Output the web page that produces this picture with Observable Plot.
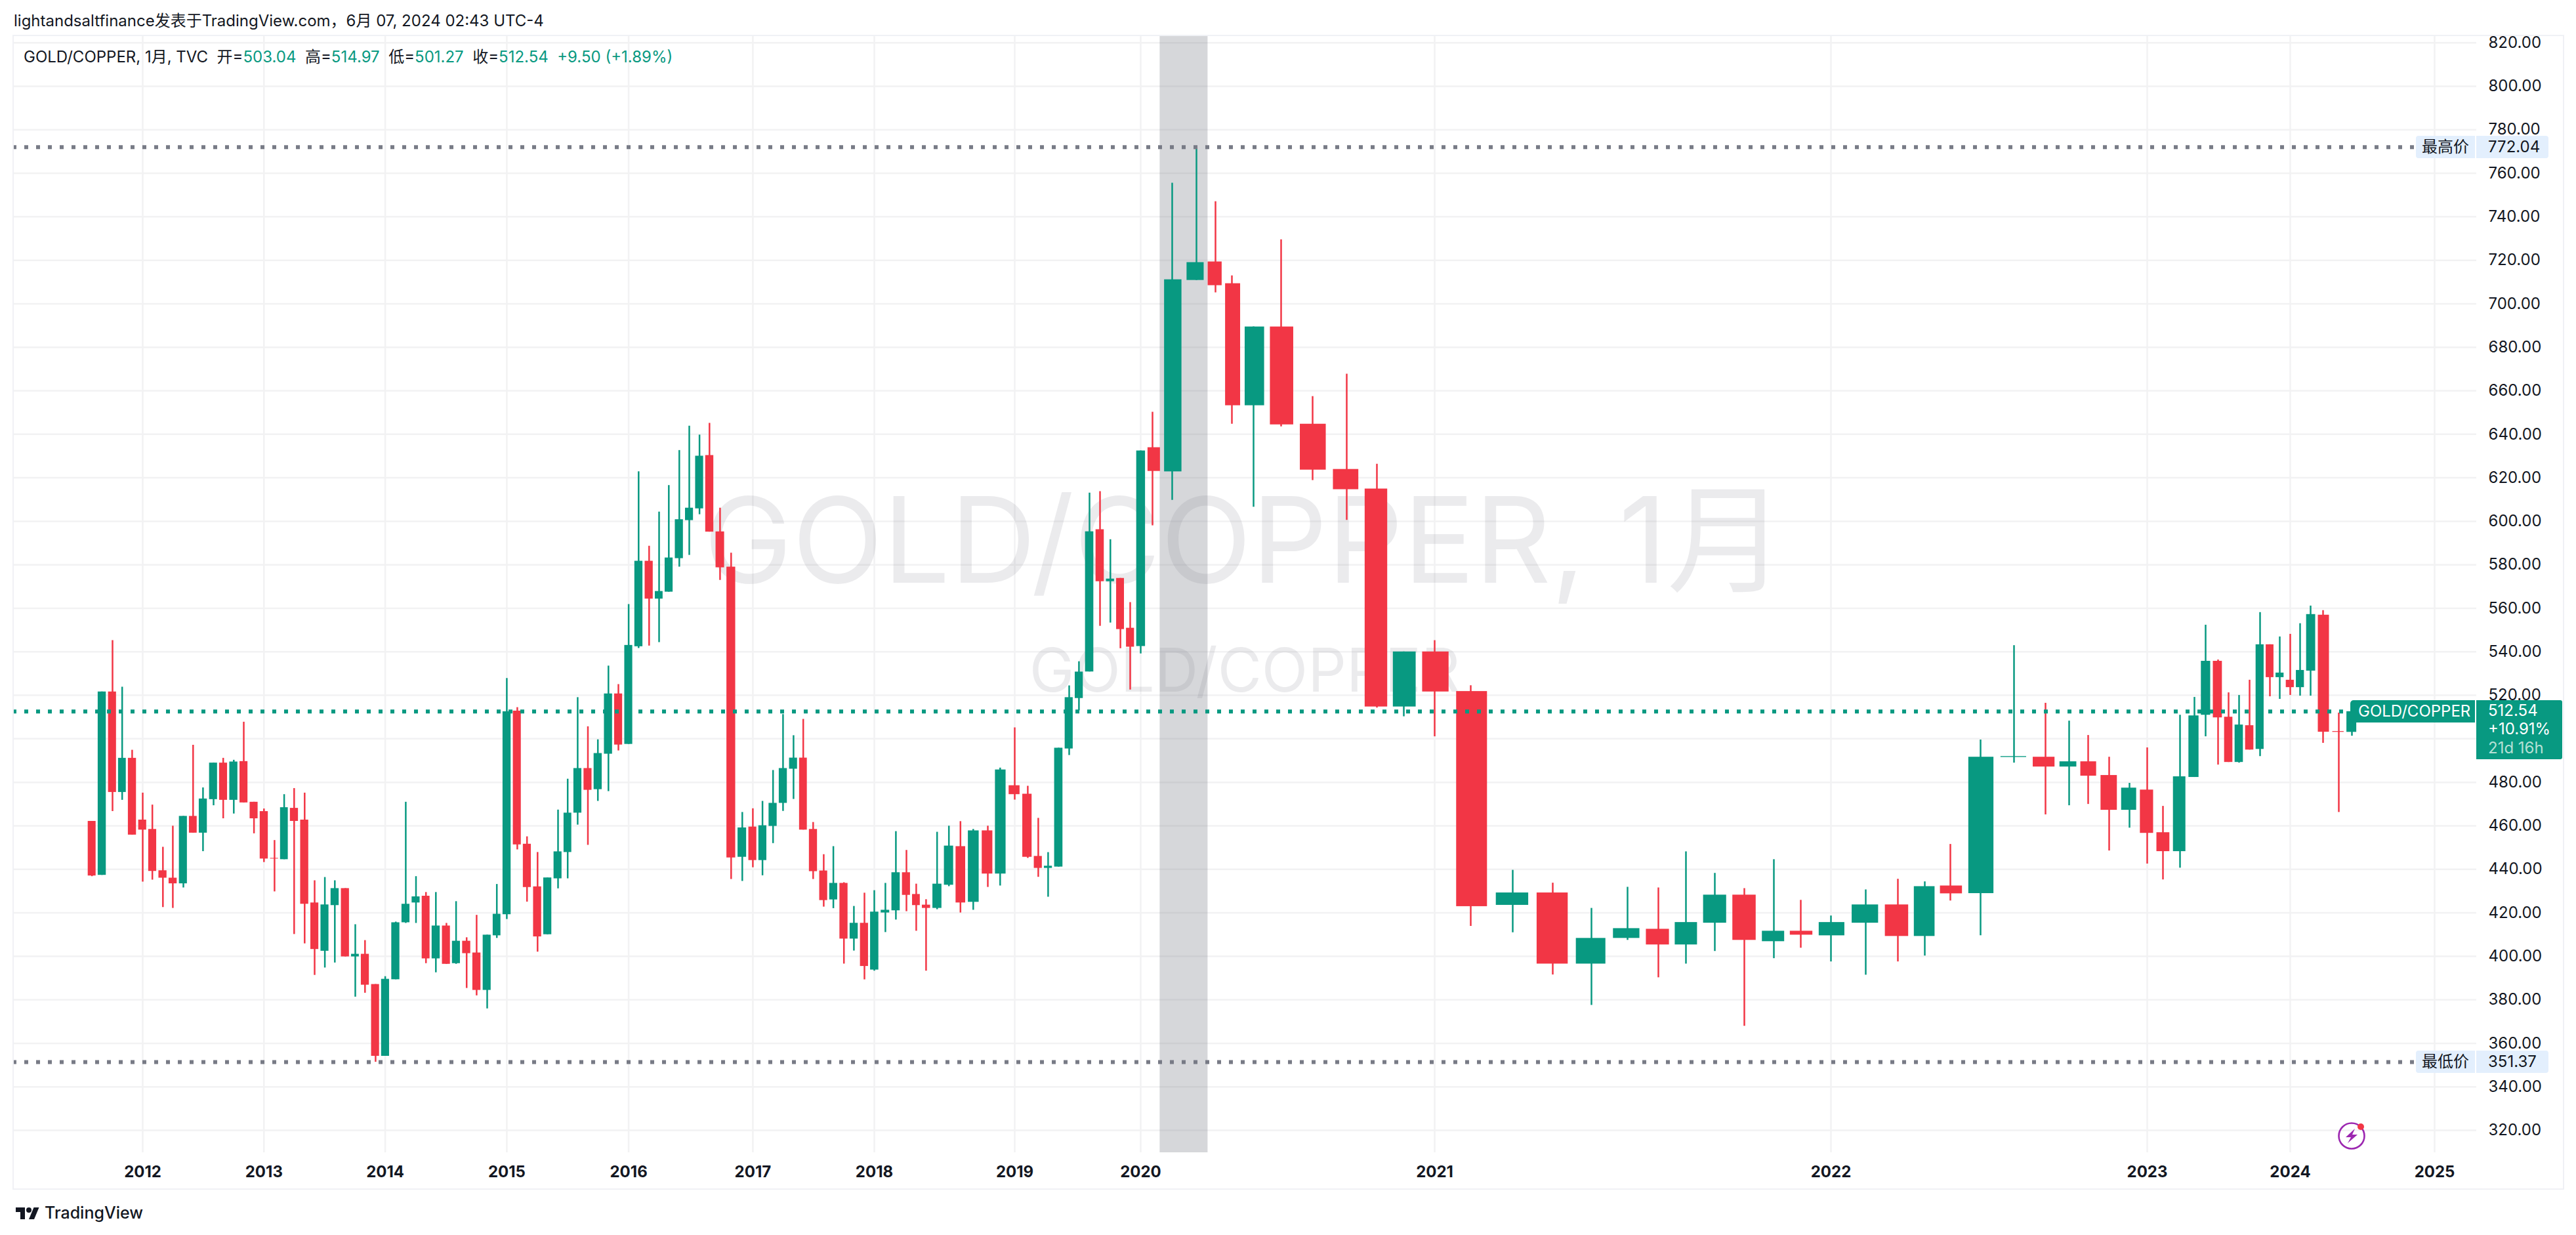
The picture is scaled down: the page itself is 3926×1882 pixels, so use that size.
<!DOCTYPE html>
<html lang="zh">
<head>
<meta charset="utf-8">
<title>GOLD/COPPER</title>
<script src="https://cdn.jsdelivr.net/npm/d3@7"></script>
<script src="https://cdn.jsdelivr.net/npm/@observablehq/plot@0.6"></script>
<style>
  html,body{margin:0;padding:0;background:#fff;}
  #page{position:relative;width:3926px;height:1882px;overflow:hidden;font-family:Inter,"Noto Sans CJK SC",sans-serif;color:#131722;}
  #page svg.plot{position:absolute;left:0;top:0;}
  #pane{position:absolute;left:19px;top:53px;width:3885px;height:1756px;border:2.5px solid #f0f1f5;box-sizing:content-box;pointer-events:none;}
  #title{position:absolute;left:21px;top:15px;font-size:24px;line-height:34px;white-space:pre;}
  #legend{position:absolute;left:36px;top:70px;font-size:24px;line-height:34px;white-space:pre;}
  #legend b{font-weight:400;color:#089981;}
  .tag{position:absolute;height:34px;line-height:34px;font-size:24px;box-sizing:border-box;white-space:pre;}
  .tagL{left:3682px;width:90px;background:#e3effd;border-radius:4px 0 0 4px;text-align:center;}
  .tagR{left:3774px;width:110px;background:#e3effd;border-radius:0 4px 4px 0;padding-left:18px;}
  #lastName{left:3582px;width:190px;background:#089981;color:#fff;border-radius:5px 0 0 5px;padding-left:12px;}
  #lastBox{position:absolute;left:3774px;width:131px;height:90px;background:#089981;color:#fff;border-radius:0 3px 3px 0;padding-left:18px;box-sizing:border-box;font-size:24px;line-height:28.5px;padding-top:2px;white-space:pre;}
  #lastBox span{color:#b5e0d5;}
  #footer{position:absolute;left:24px;top:1832px;height:32px;display:flex;align-items:center;gap:8px;font-size:25px;font-weight:500;color:#131722;}
  #bolt{position:absolute;left:3562px;top:1708px;}
</style>
</head>
<body>
<div id="page">
  <div id="title">lightandsaltfinance发表于TradingView.com，6月 07, 2024 02:43 UTC-4</div>
  <div id="legend">GOLD/COPPER, 1月, TVC  开=<b>503.04</b>  高=<b>514.97</b>  低=<b>501.27</b>  收=<b>512.54</b>  <b>+9.50 (+1.89%)</b></div>
  <div id="pane"></div>
  <div id="footer">
    <svg width="36" height="24" viewBox="0 0 36 24"><path fill="#131722" d="M14 22H7V11H0V4h14v18zM28 22h-8l7.5-18h8L28 22z"/><circle fill="#131722" cx="20" cy="8" r="4"/></svg>
    <span>TradingView</span>
  </div>
  <svg id="bolt" width="46" height="46" viewBox="0 0 46 46">
    <circle cx="22" cy="23" r="19.5" fill="none" stroke="#9c27b0" stroke-width="2.6"/>
    <path d="M27 12 L13 25 L21 25 L16 34 L31 21 L23 21 Z" fill="#9c27b0"/>
    <circle cx="36" cy="9" r="5" fill="#f23645"/>
  </svg>
</div>
<script>
// Monthly candles, Aug 2011 .. Jun 2024
const opens = [
  462.1,437.3,521.6,475.4,491.1,
  462.7,458.4,439.4,436.0,433.4,464.4,456.7,472.1,488.9,471.8,489.6,470.9,
  466.6,445.1,444.5,468.1,462.7,424.6,402.4,423.4,431.2,399.8,401.0,387.1,
  354.1,389.3,415.5,424.6,427.7,398.9,414.0,396.7,407.0,401.6,384.4,409.5,
  419.2,512.8,451.6,432.0,410.0,435.7,447.8,465.9,486.4,476.7,493.0,520.7,
  497.5,542.4,581.7,564.3,567.5,582.9,600.4,605.8,630.3,595.2,579.0,445.6,
  459.5,444.1,459.8,470.4,486.1,491.2,458.4,439.3,426.0,433.6,408.0,415.25,
  393.75,420.0,421.0,438.5,428.5,423.6,422.1,432.75,450.5,424.9,457.75,437.9,
  478.5,474.6,446.0,440.5,441.1,495.4,518.6,530.8,596.2,572.3,573.8,550.9,
  542.5,633.9,622.8,710.8,719.3,709.3,653.2,689.4,644.7,623.9,614.9,514.7,
  540.0,521.8,423.5,429.2,396.5,408.3,412.5,405.3,415.3,428.2,406.8,411.6,
  409.5,415.3,423.7,409.2,432.4,428.9,491.5,491.6,487.1,489.5,483.2,467.2,
  476.5,456.9,448.2,482.3,510.9,535.7,510.0,489.2,506.1,495.2,543.3,528.2,
  527.0,523.6,531.2,556.9,503.4,503.04
];
const highs = [
  462.1,521.6,545.2,523.8,494.8,
  475.1,469.6,450.2,459.9,464.4,497.1,477.5,488.9,491.1,490.2,507.7,470.9,
  467.8,453.3,474.4,477.2,475.1,434.8,436.3,434.8,431.2,414.6,407.3,387.1,
  390.7,415.8,470.9,436.7,429.4,429.4,415.2,425.2,408.6,418.9,409.8,433.1,
  527.8,514.4,455.0,447.8,436.1,467.3,481.5,519.0,505.6,499.6,533.5,525.0,
  561.8,622.8,588.6,604.3,616.5,632.6,643.8,639.7,645.1,606.1,585.4,466.2,
  467.9,471.3,485.5,511.2,501.5,509.0,461.6,446.8,450.5,433.9,423.0,429.1,
  430.25,433.6,457.4,448.75,433.25,426.1,457.1,459.9,462.0,458.4,459.9,486.6,
  505.1,478.25,463.5,447.75,495.75,524.4,535.5,613.05,613.7,591.6,573.8,562.7,
  632.4,650.2,755.5,772.04,747.0,712.9,689.4,729.5,657.4,667.7,626.3,540.0,
  545.2,524.5,439.6,433.7,422.1,431.8,431.5,448.1,438.2,431.2,444.5,425.8,
  418.6,430.6,435.5,434.3,451.5,499.5,542.9,516.4,508.2,501.6,491.6,479.6,
  495.9,469.0,510.9,519.1,552.3,536.3,521.2,520.0,527.0,558.1,543.3,546.9,
  548.1,553.0,561.1,559.0,511.9,514.97
];
const lows = [
  436.7,437.3,466.6,471.8,455.8,
  434.2,435.1,422.5,422.1,431.5,456.7,448.2,469.3,463.3,465.5,470.6,456.4,
  443.2,429.7,444.5,410.1,405.8,391.3,394.7,397.0,399.8,381.3,383.1,351.37,
  354.1,389.3,415.2,415.2,396.7,392.5,396.4,396.4,385.3,381.9,375.9,408.3,
  417.0,449.0,425.0,402.0,410.0,431.1,435.7,460.4,451.1,471.3,475.8,494.5,
  497.5,541.6,542.7,544.3,567.5,579.0,584.4,603.1,595.1,572.9,435.4,434.5,
  440.8,437.1,451.9,466.7,472.2,458.1,435.4,422.7,422.0,396.5,402.5,389.25,
  393.25,411.0,416.75,420.6,411.6,393.25,421.5,432.1,420.0,421.25,431.75,432.4,
  471.9,445.1,436.4,427.25,441.1,492.4,512.9,530.8,551.8,553.3,541.5,522.5,
  539.1,598.0,609.7,710.8,705.1,644.7,606.5,643.5,618.8,600.5,514.2,510.2,
  501.0,413.8,410.9,391.5,377.5,407.4,390.2,396.5,402.3,367.9,399.0,403.8,
  397.5,391.4,397.5,400.2,425.5,409.5,488.9,465.1,469.3,469.9,448.5,459.0,
  442.5,435.2,440.6,482.3,501.0,488.0,489.2,488.9,494.9,491.9,519.4,518.2,
  520.0,519.7,519.7,498.0,466.2,501.27
];
const closes = [
  437.0,521.6,475.4,491.1,455.8,
  458.1,439.1,436.0,433.4,464.4,456.7,472.4,488.9,471.8,489.4,470.6,463.3,
  444.8,444.8,468.4,462.1,424.0,403.2,423.7,431.2,399.8,401.0,386.8,354.1,
  389.5,415.5,424.0,427.4,398.9,414.0,396.4,407.0,401.3,384.4,409.8,419.4,
  512.5,451.3,431.7,409.0,436.1,448.1,465.9,486.4,476.4,493.3,520.7,497.2,
  543.0,581.7,564.3,567.8,583.2,600.8,606.1,630.0,595.1,578.7,445.3,459.1,
  444.1,460.1,470.4,486.4,491.2,458.1,439.0,425.7,433.6,408.0,415.25,395.4,
  420.4,421.25,438.5,428.1,423.4,422.1,433.25,450.75,424.6,457.75,437.9,485.75,
  474.4,445.6,440.5,441.5,495.75,519.0,530.75,595.25,572.3,573.5,550.3,542.2,
  632.4,623.0,711.1,719.0,708.4,653.2,689.4,644.4,623.6,614.6,514.7,540.0,
  521.6,422.9,429.2,396.5,408.3,412.8,405.3,415.6,428.2,407.4,411.6,409.8,
  415.6,423.7,409.2,432.1,428.8,491.6,491.9,487.1,489.5,482.9,467.2,477.4,
  456.6,448.2,482.6,510.6,535.7,509.7,489.2,506.4,494.9,543.3,528.2,530.3,
  523.6,531.5,557.2,503.1,503.04,512.54
];
// The time axis of the reference is not even: one scale anchor per month.
const monthAnchors = [
  139.7,154.9,171,185.7,200.9,
  217,231.7,247.8,262.9,279,293.8,308.9,325,339.7,355.8,371,386.6,
  401.8,417.9,432.6,447.8,463.8,479,494.6,509.8,525.9,541,555.8,571.9,
  586.6,602.7,617.9,633.5,648.7,663.8,679.9,694.6,710.7,725.9,742,756.7,
  771.9,787.9,802.7,818.8,833.9,850,864.7,879.9,895.5,910.7,926.8,942,
  957.6,972.8,988.8,1004,1018.8,1034.8,1050,1065.6,1080.8,1096.9,1113.8,1130.8,
  1146.9,1161.6,1177.7,1192.9,1208.9,1223.7,1238.8,1254.9,1269.6,1285.7,1300.9,1317,
  1332,1348.9,1364.9,1381,1395.9,1410.9,1427.7,1445.7,1463.3,1482.8,1505,1523.8,
  1546,1565.9,1581.9,1596.9,1612.9,1629,1643.9,1660,1676,1691.8,1707.1,1722,
  1738,1756,1786,1823,1852,1877,1910,1952,2000,2052,2098,2139,
  2186,2241,2305,2366,2425,2480,2527,2569,2613,2658,2703,2744,
  2790,2843,2892,2933,2972,3018,3069,3117,3153,3182,3214,3245,
  3272,3296,3322,3344,3361,3380,3396,3412,3428,3444,3459,3474,
  3490,3505,3521,3540,3564,3584
];
const axisTailDates = ["2024-07-01", "2025-01-01"];
const axisTailAnchors = [3602, 3710];
const yearLabels = ["2012","2013","2014","2015","2016","2017","2018","2019","2020","2021","2022","2023","2024","2025"];
const priceTicks = [320,340,360,380,400,420,440,460,480,500,520,540,560,580,600,620,640,660,680,700,720,740,760,780,800,820];
// 500.00 sits wholly behind the last-price box in the reference, so it is not printed.
const hiddenPriceLabels = [500];
const recession = [{start: "2020-02-12", end: "2020-04-19"}];
const lastPrice = 512.54, highPrice = 772.04, lowPrice = 351.37;

const GREEN = "#089981", RED = "#f23645", GREY = "#787b86", GRID = "#f2f2f3";

const months = d3.utcMonth.range(new Date(Date.UTC(2011, 7, 1)), new Date(Date.UTC(2024, 6, 1)));
const tail = axisTailDates.map(d => new Date(d));
const axisDates = months.concat(tail);
const bodyShare = 0.395;
const candles = months.map((date, i) => {
  const prev = i ? axisDates[i - 1] : new Date(+date - (axisDates[1] - date));
  const next = axisDates[i + 1];
  return {
    date,
    left: new Date(+date - bodyShare * (date - prev)),
    right: new Date(+date + bodyShare * (next - date)),
    open: opens[i], high: highs[i], low: lows[i], close: closes[i],
    colour: closes[i] >= opens[i] ? GREEN : RED
  };
});
const years = yearLabels.map(y => new Date(Date.UTC(+y, 0, 1)));

const chart = Plot.plot({
  width: 3926, height: 1882,
  marginLeft: 19, marginRight: 152, marginTop: 54, marginBottom: 126,
  style: {background: "#fff", fontFamily: 'Inter,"Noto Sans CJK SC",sans-serif', overflow: "visible"},
  x: {type: "utc", domain: axisDates, range: monthAnchors.concat(axisTailAnchors), axis: null},
  y: {domain: [320, 820], range: [1722, 64.7], axis: null},
  marks: [
    Plot.ruleY(priceTicks, {stroke: GRID, strokeWidth: 2.5}),
    Plot.ruleX(years, {stroke: GRID, strokeWidth: 2.5}),
    Plot.text(["GOLD/COPPER, 1月"], {frameAnchor: "top", lineAnchor: "bottom", dy: 833, fontSize: 181, fill: GREY, fillOpacity: 0.15}),
    Plot.text(["GOLD/COPPER"], {frameAnchor: "top", lineAnchor: "bottom", dy: 999, fontSize: 92, fill: GREY, fillOpacity: 0.15}),
    Plot.rectX(recession, {x1: d => new Date(d.start), x2: d => new Date(d.end), fill: GREY, fillOpacity: 0.3}),
    Plot.ruleX(candles, {x: "date", y1: "low", y2: "high", stroke: "colour", strokeWidth: 2.5}),
    Plot.rect(candles, {x1: "left", x2: "right", y1: "open", y2: "close", fill: "colour"}),
    Plot.ruleY([highPrice, lowPrice], {stroke: GREY, strokeWidth: 6, strokeDasharray: "6,12"}),
    Plot.ruleY([lastPrice], {stroke: GREEN, strokeWidth: 6, strokeDasharray: "6,12"}),
    Plot.text(priceTicks.filter(d => !hiddenPriceLabels.includes(d)), {y: d => d, text: d => d.toFixed(2), frameAnchor: "left", dx: 3773, textAnchor: "start", fontSize: 24, fill: "#131722"}),
    Plot.text(years, {x: d => d, text: d => d.getUTCFullYear().toString(), frameAnchor: "bottom", lineAnchor: "middle", dy: 30, fontSize: 24, fontWeight: 700, fill: "#131722"})
  ]
});
const page = document.getElementById("page");
page.insertBefore(chart, document.getElementById("pane"));

// Price tags are placed through the chart's own y scale
const yOf = v => chart.scale("y").apply(v);
function tag(cls, text, v, id) {
  const el = document.createElement("div");
  el.className = "tag " + cls;
  if (id) el.id = id;
  el.textContent = text;
  el.style.top = (yOf(v) - 17) + "px";
  page.appendChild(el);
}
tag("tagL", "最高价", highPrice);
tag("tagR", highPrice.toFixed(2), highPrice);
tag("tagL", "最低价", lowPrice);
tag("tagR", lowPrice.toFixed(2), lowPrice);
tag("", "GOLD/COPPER", lastPrice, "lastName");
const box = document.createElement("div");
box.id = "lastBox";
box.style.top = (yOf(lastPrice) - 17) + "px";
box.innerHTML = lastPrice.toFixed(2) + "\n+10.91%\n<span>21d 16h</span>";
page.appendChild(box);
</script>
</body>
</html>
